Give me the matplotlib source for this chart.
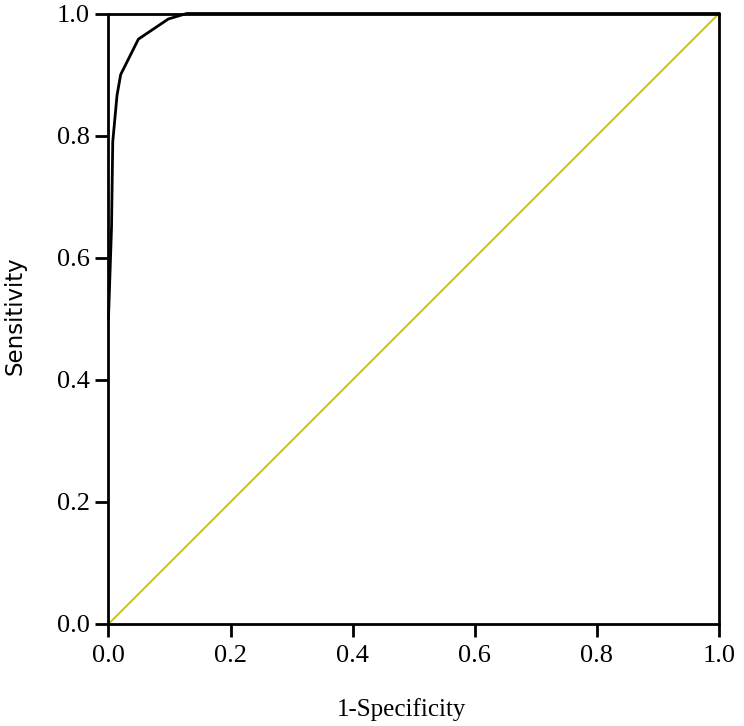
import matplotlib
matplotlib.use("Agg")
import matplotlib.pyplot as plt

# ROC curve points
fpr = [0.0, 0.005, 0.007, 0.014, 0.020, 0.049, 0.098, 0.128, 1.0]
tpr = [0.50, 0.65, 0.79, 0.866, 0.90, 0.958, 0.991, 1.0, 1.0]
ref_x = [0.0, 1.0]
ref_y = [0.0, 1.0]
ticks = [0.0, 0.2, 0.4, 0.6, 0.8, 1.0]
tick_labels = ["0.0", "0.2", "0.4", "0.6", "0.8", "1.0"]

plt.rcParams["font.family"] = "serif"
plt.rcParams["font.serif"] = ["Liberation Serif", "Times New Roman", "DejaVu Serif"]

fig = plt.figure(figsize=(7.44, 7.26), dpi=100)
ax = fig.add_axes([0.1458, 0.1405, 0.8206, 0.8409])

ax.plot(ref_x, ref_y, color="#c9c216", lw=1.4, clip_on=False)
ax.plot(fpr, tpr, color="black", lw=2.0, clip_on=False)

ax.set_xlim(0, 1)
ax.set_ylim(0, 1)
ax.set_xticks(ticks)
ax.set_yticks(ticks)
ax.set_xticklabels(tick_labels, fontsize=19)
ax.set_yticklabels(tick_labels, fontsize=19)
ax.tick_params(direction="out", length=9.4, width=2, color="black", pad=4)
ax.tick_params(axis="x", pad=6)
for s in ax.spines.values():
    s.set_linewidth(2)
    s.set_color("black")

fig.text(402 / 744, 1 - 710 / 726, "1-Specificity", fontsize=18, ha="center", va="center")
fig.text(15 / 744, 1 - 316 / 726, "Sensitivity", family="DejaVu Sans", fontsize=16.5,
         rotation=90, ha="center", va="center")

fig.savefig("out.png", dpi=100)
